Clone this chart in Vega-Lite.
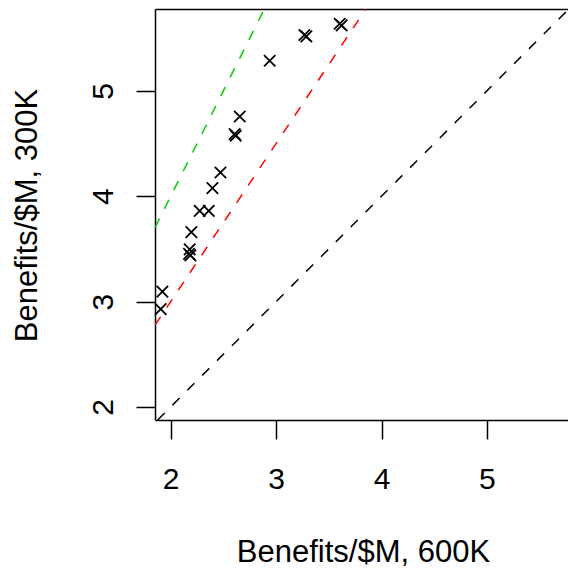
{
  "$schema": "https://vega.github.io/schema/vega-lite/v6.json",
  "width": 413,
  "height": 411,
  "autosize": {"type": "none"},
  "padding": {"left": 155, "top": 9, "right": 0, "bottom": 149},
  "background": "white",
  "config": {
    "view": {"stroke": null},
    "font": "Liberation Sans",
    "axis": {
      "grid": false,
      "domainColor": "#000000",
      "domainWidth": 1.5,
      "tickColor": "#000000",
      "tickWidth": 1.5,
      "tickSize": 19,
      "labelColor": "#000000",
      "labelFont": "Liberation Sans",
      "labelFontSize": 30,
      "labelFlush": false,
      "labelOverlap": false,
      "format": "d",
      "titleColor": "#000000",
      "titleFont": "Liberation Sans",
      "titleFontSize": 31,
      "titleFontWeight": "normal"
    }
  },
  "datasets": {
    "pts": [
      {"x": 1.905, "y": 2.928},
      {"x": 1.921, "y": 3.095},
      {"x": 2.174, "y": 3.453},
      {"x": 2.187, "y": 3.439},
      {"x": 2.180, "y": 3.496},
      {"x": 2.196, "y": 3.659},
      {"x": 2.275, "y": 3.861},
      {"x": 2.361, "y": 3.861},
      {"x": 2.396, "y": 4.077},
      {"x": 2.472, "y": 4.225},
      {"x": 2.607, "y": 4.590},
      {"x": 2.617, "y": 4.574},
      {"x": 2.655, "y": 4.757},
      {"x": 2.939, "y": 5.286},
      {"x": 3.268, "y": 5.530},
      {"x": 3.287, "y": 5.517},
      {"x": 3.603, "y": 5.637},
      {"x": 3.622, "y": 5.621}
    ],
    "lines": [
      {"series": "black", "x": 1.876, "y": 1.876},
      {"series": "black", "x": 5.769, "y": 5.769},
      {"series": "red", "x": 1.851, "y": 2.7765},
      {"series": "red", "x": 3.851, "y": 5.7765},
      {"series": "green", "x": 1.851, "y": 3.702},
      {"series": "green", "x": 2.8885, "y": 5.777}
    ]
  },
  "layer": [
    {
      "data": {"name": "lines"},
      "mark": {"type": "line", "clip": true, "strokeDash": [10, 11], "strokeWidth": 1.5},
      "encoding": {
        "x": {
          "field": "x",
          "type": "quantitative",
          "scale": {"domain": [1.851, 5.769], "nice": false, "zero": false},
          "axis": {
            "orient": "bottom",
            "values": [2, 3, 4, 5],
            "format": "d",
            "title": "Benefits/$M, 600K",
            "labelAngle": 0,
            "labelAlign": "center",
            "labelBaseline": "alphabetic",
            "labelPadding": 49,
            "titleBaseline": "alphabetic",
            "titleAlign": "center",
            "titleAngle": 0,
            "titleX": 208,
            "titleY": 141
          }
        },
        "y": {
          "field": "y",
          "type": "quantitative",
          "scale": {"domain": [1.876, 5.777], "nice": false, "zero": false},
          "axis": {
            "values": [2, 3, 4, 5],
            "format": "d",
            "title": "Benefits/$M, 300K",
            "labelAngle": 270,
            "labelAlign": "center",
            "labelBaseline": "alphabetic",
            "labelPadding": 24,
            "titleAngle": 270,
            "titleAlign": "center",
            "titleBaseline": "alphabetic",
            "titleX": -119,
            "titleY": 206
          }
        },
        "color": {
          "field": "series",
          "type": "nominal",
          "scale": {"domain": ["black", "red", "green"], "range": ["#000000", "#FF0000", "#00CD00"]},
          "legend": null
        }
      }
    },
    {
      "data": {"name": "pts"},
      "mark": {
        "type": "point",
        "shape": "M-1,-1L1,1M-1,1L1,-1",
        "size": 130,
        "filled": false,
        "stroke": "#000000",
        "strokeWidth": 1.8,
        "opacity": 1
      },
      "encoding": {
        "x": {
          "field": "x",
          "type": "quantitative",
          "axis": {"orient": "top", "labels": false, "ticks": false, "title": null, "domain": true}
        },
        "y": {"field": "y", "type": "quantitative"}
      }
    }
  ],
  "resolve": {"axis": {"x": "independent"}}
}
